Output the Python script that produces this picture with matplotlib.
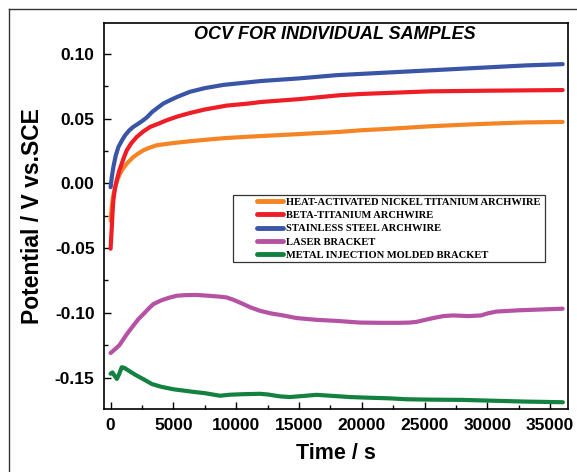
import matplotlib
matplotlib.use("Agg")
import matplotlib.pyplot as plt
from matplotlib.lines import Line2D
from matplotlib.patches import Rectangle
from matplotlib.ticker import MultipleLocator

plt.rcParams['font.family'] = ['Liberation Sans', 'DejaVu Sans']

# ---- data ----
labels = ["HEAT-ACTIVATED NICKEL TITANIUM ARCHWIRE",
          "BETA-TITANIUM ARCHWIRE",
          "STAINLESS STEEL ARCHWIRE",
          "LASER BRACKET",
          "METAL INJECTION MOLDED BRACKET"]
colors = ["#F58424", "#EE1D26", "#3A55A6", "#B552A4", "#13813F"]

t_niti = [0, 95, 200, 358, 550, 756, 1000, 1290, 1813, 2200, 2610, 3100, 3675, 5000, 6323,
          8000, 9240, 11000, 12000, 15000, 18250, 20000, 22000, 25400, 28000, 30000, 33000,
          36000]
v_niti = [-0.0286, -0.018, -0.010, -0.003, 0.003, 0.0075, 0.0115, 0.0152, 0.0203, 0.023,
          0.0255, 0.0275, 0.0294, 0.0311, 0.0325, 0.034, 0.035, 0.036, 0.0365, 0.038, 0.0397,
          0.041, 0.042, 0.044, 0.0452, 0.046, 0.047, 0.0474]

t_beta = [0, 95, 160, 223, 350, 490, 700, 890, 1100, 1290, 1650, 2084, 2600, 3142, 3800,
          4470, 5300, 6323, 7500, 9240, 11000, 12000, 15000, 18250, 20000, 25400, 30000,
          36000]
v_beta = [-0.0505, -0.034, -0.022, -0.013, -0.004, 0.0023, 0.010, 0.0152, 0.021, 0.0255,
          0.031, 0.0358, 0.040, 0.0435, 0.046, 0.0487, 0.0515, 0.0543, 0.057, 0.060, 0.0616,
          0.0628, 0.065, 0.068, 0.069, 0.071, 0.0715, 0.072]

t_ss = [0, 100, 223, 400, 620, 900, 1150, 1500, 1800, 2200, 2600, 2900, 3300, 3700, 4200,
        4700, 5300, 6300, 7500, 9000, 10500, 12000, 15000, 18000, 20000, 22000, 25000,
        28000, 30000, 33000, 36000]
v_ss = [-0.003, 0.005, 0.0126, 0.021, 0.028, 0.033, 0.037, 0.041, 0.0435, 0.046, 0.0487,
        0.051, 0.055, 0.058, 0.0616, 0.064, 0.0667, 0.0706, 0.0735, 0.076, 0.0775, 0.079,
        0.081, 0.0835, 0.0845, 0.0855, 0.087, 0.0885, 0.0895, 0.091, 0.092]

t_laser = [0, 300, 700, 1290, 1800, 2200, 2610, 3000, 3400, 4000, 4600, 5265, 6000, 6855,
           7800, 8700, 9240, 9800, 10400, 11096, 11890, 12800, 13745, 14800, 16400, 18000,
           19845, 21500, 23030, 23800, 24350, 25000, 25700, 26500, 27266, 28500, 29500,
           30000, 30715, 32573, 34000, 36000]
v_laser = [-0.131, -0.1285, -0.125, -0.1165, -0.110, -0.105, -0.101, -0.097, -0.0933,
           -0.0905, -0.0885, -0.0868, -0.0863, -0.0862, -0.0868, -0.0875, -0.0881, -0.090,
           -0.0925, -0.0956, -0.0984, -0.1005, -0.102, -0.104, -0.1054, -0.1062, -0.1075,
           -0.1077, -0.1077, -0.1075, -0.107, -0.1055, -0.104, -0.1025, -0.102, -0.1025,
           -0.102, -0.1005, -0.099, -0.098, -0.0975, -0.0968]

t_mim = [0, 150, 350, 500, 650, 890, 1100, 1500, 2000, 2610, 3300, 4000, 4995, 5800, 6590,
         7500, 8710, 9500, 10560, 11890, 12500, 13500, 14278, 15300, 16400, 17500, 19050,
         20500, 22230, 23500, 25413, 28000, 29920, 33000, 36015]
v_mim = [-0.147, -0.146, -0.149, -0.151, -0.148, -0.142, -0.1425, -0.145, -0.148, -0.1512,
         -0.155, -0.157, -0.159, -0.160, -0.161, -0.162, -0.164, -0.1632, -0.1628, -0.1625,
         -0.163, -0.1645, -0.165, -0.1642, -0.1633, -0.164, -0.165, -0.1655, -0.166,
         -0.1667, -0.167, -0.1672, -0.1677, -0.1685, -0.169]

xticks = [0, 5000, 10000, 15000, 20000, 25000, 30000, 35000]
yticks = [-0.15, -0.10, -0.05, 0.00, 0.05, 0.10]

series_t = [t_niti, t_beta, t_ss, t_laser, t_mim]
series_v = [v_niti, v_beta, v_ss, v_laser, v_mim]

# ---- figure ----
fig = plt.figure(figsize=(5.77, 4.72), dpi=100)
ax = fig.add_axes([104.3 / 577, 1 - 408.7 / 472, (567.7 - 104.3) / 577, (408.7 - 22.7) / 472])

handles = []
for t, v, c, lab in zip(series_t, series_v, colors, labels):
    h, = ax.plot(t, v, color=c, lw=3.0, solid_capstyle='round',
                 solid_joinstyle='round', label=lab)
    handles.append(h)

ax.set_xlim(-500, 36400)
ax.set_ylim(-0.174, 0.124)
ax.set_xticks(xticks)
ax.set_yticks(yticks)
ax.set_xticklabels([str(x) for x in xticks])
ax.set_yticklabels(["%.2f" % y for y in yticks])
ax.xaxis.set_minor_locator(MultipleLocator(2500))
ax.yaxis.set_minor_locator(MultipleLocator(0.025))
ax.tick_params(which='both', direction='in', top=False, right=False, width=1.0)
ax.tick_params(which='major', length=5, labelsize=12.5, pad=7)
ax.tick_params(which='minor', length=3)
for lab in ax.get_xticklabels() + ax.get_yticklabels():
    lab.set_fontweight('bold')
for s in ax.spines.values():
    s.set_linewidth(1.2)

ax.set_xlabel("Time / s", fontsize=15.5, fontweight='bold', labelpad=7)
ax.set_ylabel("Potential / V vs.SCE", fontsize=16.5, fontweight='bold', labelpad=8)

ax.text(0.497, 0.9705, "OCV FOR INDIVIDUAL SAMPLES", transform=ax.transAxes,
        ha='center', va='center', fontsize=13, fontweight='bold', fontstyle='italic')

# legend box
ax.add_patch(Rectangle((0.2777, 0.380), 0.951 - 0.2777, 0.5536 - 0.380,
                       transform=ax.transAxes, fill=True, facecolor='white',
                       edgecolor='#333333', lw=0.9, zorder=4))
leg = ax.legend(handles=handles, loc='upper left', bbox_to_anchor=(0.3289, 0.547),
                frameon=False, borderpad=0, borderaxespad=0, handlelength=2.45,
                handletextpad=0.28, labelspacing=0.36,
                prop={'family': 'Liberation Serif', 'weight': 'bold', 'size': 7.6})
leg.set_zorder(5)
for lh in leg.get_lines():
    lh.set_linewidth(3.5)

# outer frame (cut at right and bottom)
fig.add_artist(Line2D([8.5 / 577, 1.0], [1 - 9.3 / 472, 1 - 9.3 / 472],
                      transform=fig.transFigure, color='#333333', lw=1.0))
fig.add_artist(Line2D([8.5 / 577, 8.5 / 577], [0.0, 1 - 9.3 / 472],
                      transform=fig.transFigure, color='#333333', lw=1.0))

fig.savefig("out.png", dpi=100)
